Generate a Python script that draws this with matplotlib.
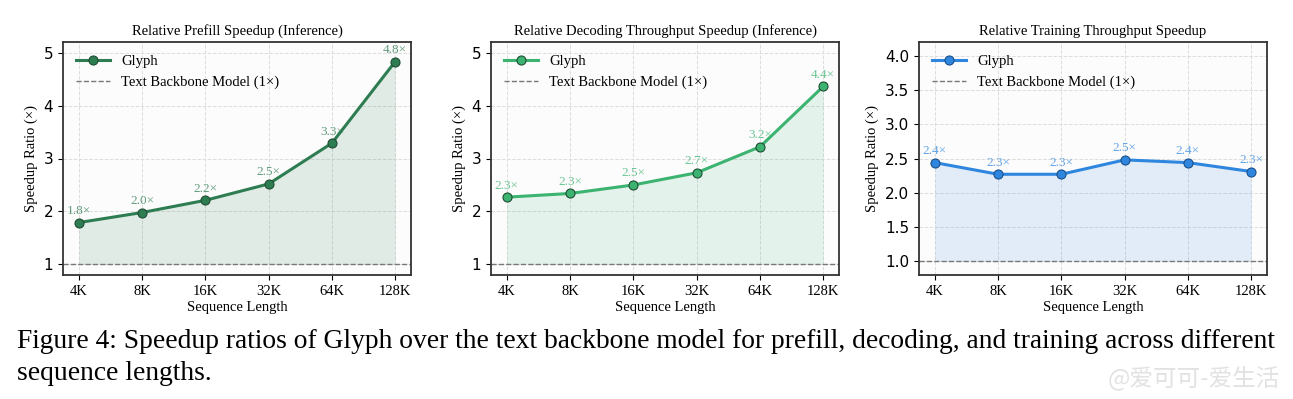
import numpy as np
import matplotlib
matplotlib.use('Agg')
import matplotlib.pyplot as plt

# data
seq_labels = ['4K', '8K', '16K', '32K', '64K', '128K']
prefill = [1.79, 1.98, 2.21, 2.52, 3.29, 4.83]
decoding = [2.27, 2.34, 2.50, 2.73, 3.22, 4.36]
training = [2.44, 2.27, 2.27, 2.48, 2.44, 2.31]

titles = ['Relative Prefill Speedup (Inference)',
          'Relative Decoding Throughput Speedup (Inference)',
          'Relative Training Throughput Speedup']
colors = ['#2E7D52', '#3CB371', '#2E86DE']
ylims = [(0.8, 5.2), (0.8, 5.2), (0.8, 4.2)]
caption_lines = ['Figure 4: Speedup ratios of Glyph over the text backbone model for prefill, '
                 'decoding, and training across different',
                 'sequence lengths.']

plt.rcParams['font.family'] = ['Liberation Serif', 'DejaVu Serif']

fig = plt.figure(figsize=(12.93, 3.99), dpi=100)
lefts = [63, 491, 919]
W, H = 1293, 399
series = [prefill, decoding, training]

x = np.arange(len(seq_labels))
for i in range(3):
    ax = fig.add_axes([lefts[i] / W, 1 - 275 / H, 348 / W, 233 / H])
    ax.set_facecolor('#FCFCFC')
    c = colors[i]
    y = series[i]
    ax.fill_between(x, 1, y, color=c, alpha=0.13, lw=0)
    ax.plot(x, y, '-o', color=c, lw=2.2, ms=6.5, mec='#1f4d33' if i < 2 else '#1a4f8a',
            mew=0.8, label='Glyph', zorder=3)
    ax.axhline(1.0, color='#777777', ls='--', lw=1.0, label='Text Backbone Model (1×)')
    for xi, yi in zip(x, y):
        ax.annotate(f'{yi:.1f}×', (xi, yi), xytext=(0, 4), textcoords='offset points',
                    ha='center', va='bottom', fontsize=9.5, color=c, alpha=0.75)
    ax.set_xlim(-0.25, 5.25)
    ax.set_ylim(*ylims[i])
    ax.set_xticks(x)
    ax.set_xticklabels(seq_labels, fontsize=10.5)
    if i < 2:
        ax.set_yticks([1, 2, 3, 4, 5])
        ax.set_yticklabels(['1', '2', '3', '4', '5'], family='DejaVu Sans', fontsize=11)
    else:
        yt = [1.0, 1.5, 2.0, 2.5, 3.0, 3.5, 4.0]
        ax.set_yticks(yt)
        ax.set_yticklabels([f'{v:.1f}' for v in yt], family='DejaVu Sans', fontsize=11)
    ax.grid(True, ls='--', color='#dddddd', lw=0.7)
    ax.set_axisbelow(True)
    for s in ax.spines.values():
        s.set_linewidth(1.3)
        s.set_color('#333333')
    ax.set_xlabel('Sequence Length', fontsize=10.5, labelpad=2)
    ax.set_ylabel('Speedup Ratio (×)', fontsize=10.5)
    ax.set_title(titles[i], fontsize=10.5, pad=5)
    ax.legend(loc='upper left', frameon=False, fontsize=10.5, handlelength=2.3)

# caption, one text per line
fig.text(17 / W, 1 - 341 / H, caption_lines[0], fontsize=19.8, va='center', ha='left')
fig.text(17 / W, 1 - 374 / H, caption_lines[1], fontsize=19.8, va='center', ha='left')
fig.text(1280 / W, 1 - 378 / H, '@爱可可-爱生活', fontsize=17, ha='right', va='center',
         color='#e2e2e2', family=['Noto Sans CJK SC', 'DejaVu Sans'])

fig.savefig('out.png', dpi=100)
